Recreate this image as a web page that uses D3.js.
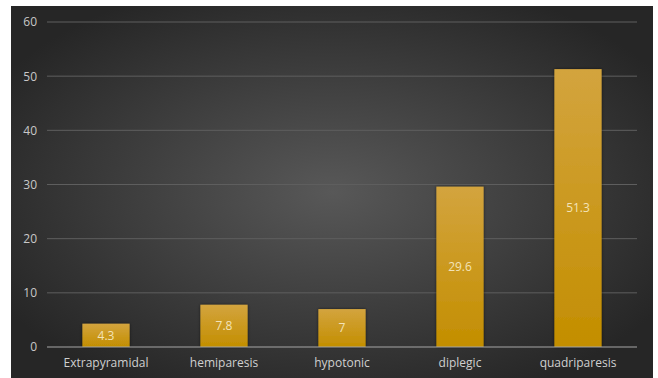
<!DOCTYPE html>
<html><head><meta charset="utf-8">
<script src="https://cdn.jsdelivr.net/npm/d3@7"></script>
<style>html,body{margin:0;padding:0;background:#fff;}svg{display:block;}</style>
</head><body>
<script>
const categories = ["Extrapyramidal","hemiparesis","hypotonic","diplegic","quadriparesis"];
const values = [4.3, 7.8, 7, 29.6, 51.3];
const yTicks = [0,10,20,30,40,50,60];

const W = 658, H = 378;
const svg = d3.select("body").append("svg").attr("width", W).attr("height", H);
const defs = svg.append("defs");
const rg = defs.append("radialGradient").attr("id","bg").attr("cx","50%").attr("cy","50%").attr("r","60%");
rg.append("stop").attr("offset","0%").attr("stop-color","#585858");
rg.append("stop").attr("offset","100%").attr("stop-color","#262626");
const bgGrad = defs.append("linearGradient").attr("id","bar").attr("x1",0).attr("x2",0).attr("y1",0).attr("y2",1);
bgGrad.append("stop").attr("offset","0%").attr("stop-color","#d3a43e");
bgGrad.append("stop").attr("offset","100%").attr("stop-color","#c38e00");
const f = defs.append("filter").attr("id","sh").attr("x","-20%").attr("y","-20%").attr("width","140%").attr("height","140%");
f.append("feDropShadow").attr("dx",0).attr("dy",0).attr("stdDeviation",1.5).attr("flood-color","#000").attr("flood-opacity",0.6);

svg.append("rect").attr("x",11).attr("y",6).attr("width",642).attr("height",372).attr("fill","url(#bg)");

const x = d3.scaleBand().domain(categories).range([47,637]).paddingInner(0.6).paddingOuter(0.3);
const y = d3.scaleLinear().domain([0,60]).range([347,22]);

const grid = svg.append("g");
grid.selectAll("line").data(yTicks.filter(d=>d>0)).join("line")
  .attr("x1",47).attr("x2",637).attr("y1",d=>y(d)).attr("y2",d=>y(d))
  .attr("stroke","#5e5e5e").attr("stroke-width",1);

const yAxis = svg.append("g").attr("transform","translate(37,0)")
  .call(d3.axisLeft(y).tickValues(yTicks).tickSize(0).tickPadding(0));
yAxis.select(".domain").remove();
yAxis.selectAll("text").attr("fill","#c8c8c8").style("font-family","'Open Sans', sans-serif").style("font-size","12px");

svg.append("g").selectAll("rect").data(values).join("rect")
  .attr("x",(d,i)=>x(categories[i])).attr("width",x.bandwidth())
  .attr("y",d=>y(d)).attr("height",d=>y(0)-y(d))
  .attr("fill","url(#bar)").attr("filter","url(#sh)");

svg.append("line").attr("x1",47).attr("x2",637).attr("y1",y(0)).attr("y2",y(0))
  .attr("stroke","#a6a6a6").attr("stroke-width",1.2);

const xAxis = svg.append("g").attr("transform",`translate(0,${y(0)})`)
  .call(d3.axisBottom(x).tickSize(0).tickPadding(11));
xAxis.select(".domain").remove();
xAxis.selectAll("text").attr("fill","#d0d0d0").style("font-family","'Open Sans', sans-serif").style("font-size","12px");

svg.append("g").selectAll("text").data(values).join("text")
  .attr("x",(d,i)=>x(categories[i])+x.bandwidth()/2)
  .attr("y",d=>(y(d)+y(0))/2).attr("dy","0.35em")
  .attr("text-anchor","middle").attr("fill","#f3e3b8")
  .style("font-family","'Open Sans', sans-serif").style("font-size","12px")
  .text(d=>d);
</script>
</body></html>
